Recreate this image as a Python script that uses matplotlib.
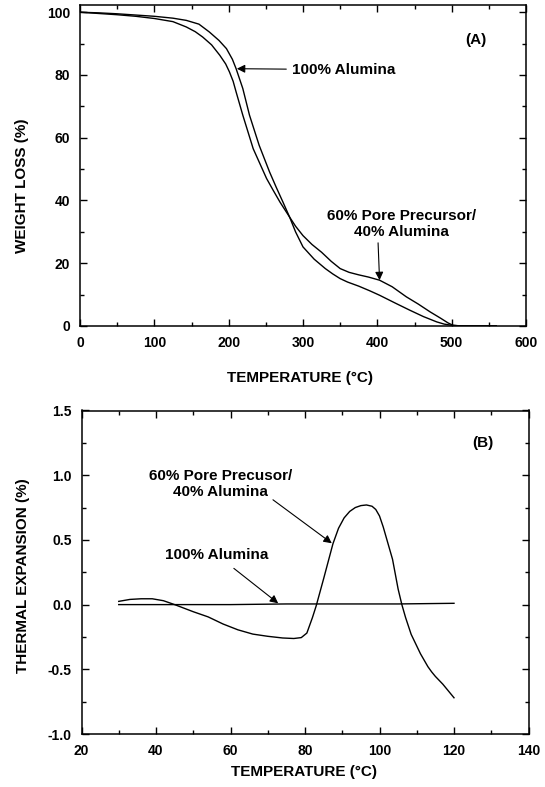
import matplotlib
matplotlib.use("Agg")
import matplotlib.pyplot as plt
from matplotlib.ticker import MultipleLocator, FormatStrFormatter

plt.rcParams['font.family'] = ['Liberation Sans', 'DejaVu Sans']
plt.rcParams['font.weight'] = 'bold'

# ---- Panel A: TGA weight loss ----
tga_temp_alumina = [0, 25, 50, 75, 100, 125, 143, 160, 174, 187, 197, 205, 210, 219, 228,
                    241, 255, 264, 273, 282, 290, 300, 315, 330, 340, 350, 360, 375, 390, 403,
                    425, 444, 462, 480, 490, 498, 510, 530, 560]
tga_alumina = [100, 99.8, 99.5, 99.1, 98.7, 98.1, 97.4, 96.2, 93.7, 91.0, 88.4, 85.0, 82.0,
               75.7, 67.2, 57.6, 49.1, 44.2, 39.5, 34.7, 30.0, 25.2, 21.3, 18.3, 16.6, 15.1,
               14.0, 12.7, 11.2, 9.8, 7.2, 5.0, 3.0, 1.3, 0.6, 0.3, 0.05, 0, 0]

tga_temp_pore = [0, 25, 50, 75, 100, 125, 143, 155, 165, 177, 188, 196, 201, 206, 210, 219,
                 233, 251, 260, 269, 282, 290, 300, 312, 325, 338, 350, 362, 375, 388, 403,
                 420, 439, 455, 471, 485, 495, 502, 515, 560]
tga_pore = [100, 99.6, 99.2, 98.7, 98.0, 97.0, 95.3, 93.8, 92.1, 89.6, 86.3, 83.5, 81.0, 78.0,
            74.6, 67.2, 56.5, 47.0, 43.2, 39.5, 34.7, 31.8, 28.8, 26.0, 23.5, 20.6, 18.3,
            17.1, 16.3, 15.6, 14.6, 12.5, 9.3, 7.0, 4.5, 2.5, 1.0, 0.2, 0, 0]

# ---- Panel B: thermal expansion ----
tma_temp_pore = [30, 33, 36, 39, 42, 45, 50, 54, 58, 62, 66, 70, 74, 77, 79, 80.5, 82, 83, 85,
                 87.5, 89, 90.5, 92, 93.5, 95, 96.5, 98, 99, 100, 101, 102, 103.5, 105, 106,
                 107, 108.5, 110, 111, 112, 113, 114, 115, 116, 117, 118, 119, 120]
tma_pore = [0.025, 0.04, 0.045, 0.045, 0.03, 0.0, -0.055, -0.095, -0.15, -0.195, -0.228,
            -0.245, -0.258, -0.262, -0.255, -0.22, -0.10, -0.01, 0.2, 0.47, 0.59, 0.67, 0.72,
            0.75, 0.765, 0.77, 0.76, 0.735, 0.685, 0.6, 0.5, 0.35, 0.12, 0.0, -0.1, -0.23,
            -0.32, -0.38, -0.43, -0.48, -0.52, -0.555, -0.585, -0.615, -0.65, -0.685, -0.72]
tma_temp_alumina = [30, 45, 60, 75, 90, 105, 120]
tma_alumina = [0.0, 0.0, 0.0, 0.005, 0.005, 0.005, 0.01]

fig = plt.figure(figsize=(5.45, 7.87), dpi=100)
W, H = 545.0, 787.0

def axes_px(left, right, top, bottom):
    return fig.add_axes([left / W, 1 - bottom / H, (right - left) / W, (bottom - top) / H])

ax1 = axes_px(80, 526, 5, 326)
ax2 = axes_px(81.5, 528.5, 410.5, 734)

for ax in (ax1, ax2):
    for s in ax.spines.values():
        s.set_linewidth(1.1)
    ax.tick_params(which='both', direction='in', top=True, right=True, width=1.0,
                   labelsize=10)
    ax.tick_params(axis='x', pad=7)
    ax.tick_params(axis='y', pad=7)
    ax.tick_params(which='major', length=5)
    ax.tick_params(which='minor', length=3)

# Panel A
ax1.plot(tga_temp_alumina, tga_alumina, color='black', lw=1.0)
ax1.plot(tga_temp_pore, tga_pore, color='black', lw=1.0)
ax1.set_xlim(0, 600)
ax1.set_ylim(0, 102.3)
ax1.xaxis.set_major_locator(MultipleLocator(100))
ax1.xaxis.set_minor_locator(MultipleLocator(50))
ax1.yaxis.set_major_locator(MultipleLocator(20))
ax1.yaxis.set_minor_locator(MultipleLocator(10))

ax1.annotate('100% Alumina', xy=(211, 82), xytext=(285, 81.7), fontsize=11,
             fontweight='bold', ha='left', va='center',
             arrowprops=dict(arrowstyle='-|>', color='black', lw=0.8,
                             mutation_scale=12, shrinkA=2, shrinkB=0))
ax1.text(533, 91.2, '(A)', fontsize=11, fontweight='bold', ha='center', va='center')
ax1.text(433, 32.5, '60% Pore Precursor/\n40% Alumina', fontsize=11, fontweight='bold',
         ha='center', va='center', multialignment='center', linespacing=1.15)
ax1.annotate('', xy=(403, 14.6), xytext=(401, 26.5),
             arrowprops=dict(arrowstyle='-|>', color='black', lw=0.8,
                             mutation_scale=12, shrinkA=0, shrinkB=0))

# Panel B
ax2.plot(tma_temp_alumina, tma_alumina, color='black', lw=1.0)
ax2.plot(tma_temp_pore, tma_pore, color='black', lw=1.0)
ax2.set_xlim(20, 140)
ax2.set_ylim(-1.0, 1.5)
ax2.xaxis.set_major_locator(MultipleLocator(20))
ax2.xaxis.set_minor_locator(MultipleLocator(10))
ax2.yaxis.set_major_locator(MultipleLocator(0.5))
ax2.yaxis.set_minor_locator(MultipleLocator(0.25))
ax2.yaxis.set_major_formatter(FormatStrFormatter('%.1f'))

ax2.text(127.7, 1.247, '(B)', fontsize=11, fontweight='bold', ha='center', va='center')
ax2.text(57.3, 0.93, '60% Pore Precusor/\n40% Alumina', fontsize=11, fontweight='bold',
         ha='center', va='center', multialignment='center', linespacing=1.15)
ax2.annotate('', xy=(87.2, 0.474), xytext=(71.4, 0.81),
             arrowprops=dict(arrowstyle='-|>', color='black', lw=0.8,
                             mutation_scale=12, shrinkA=0, shrinkB=0))
ax2.text(56.2, 0.383, '100% Alumina', fontsize=11, fontweight='bold',
         ha='center', va='center')
ax2.annotate('', xy=(72.8, 0.01), xytext=(60.9, 0.28),
             arrowprops=dict(arrowstyle='-|>', color='black', lw=0.8,
                             mutation_scale=12, shrinkA=0, shrinkB=0))

# Axis labels
fig.text(22 / W, 1 - 186 / H, 'WEIGHT LOSS (%)', rotation=90, fontsize=11,
         fontweight='bold', ha='center', va='center')
fig.text(300 / W, 1 - 378 / H, 'TEMPERATURE (°C)', fontsize=11,
         fontweight='bold', ha='center', va='center')
fig.text(23 / W, 1 - 576 / H, 'THERMAL EXPANSION (%)', rotation=90, fontsize=11,
         fontweight='bold', ha='center', va='center')
fig.text(304 / W, 1 - 772 / H, 'TEMPERATURE (°C)', fontsize=11,
         fontweight='bold', ha='center', va='center')

fig.savefig('out.png', dpi=100)
